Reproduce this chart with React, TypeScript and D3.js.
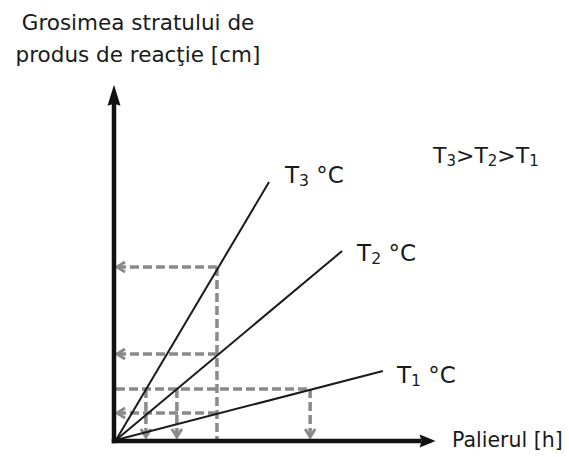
import React from "react";
import * as d3 from "d3";

// Reaction-layer growth at three temperatures (linear law h = k·t)
const seriesNames = ["1", "2", "3"]; // T1, T2, T3 subscripts
const lineEndTime = [7.85, 6.65, 4.5]; // h
const lineEndThickness = [1.97, 5.4, 7.37]; // cm

// Reading at a fixed dwell time: thickness obtained for each temperature
const readTime = 2.97;
const thicknessAtReadTime = [0.77, 2.46, 4.94];

// Reading at a fixed thickness: dwell time needed for each temperature
const readThickness = 1.46;
const timeAtReadThickness = [5.71, 1.79, 0.88];

const xAxisMax = 9.4;
const yAxisMax = 10.15;

const titleLines = ["Grosimea stratului de", "produs de reacţie [cm]"];
const xTitle = "Palierul [h]";

const W = 569;
const H = 457;

const x = d3.scaleLinear().domain([0, 10]).range([116, 456]);
const y = d3.scaleLinear().domain([0, 10]).range([440, 90]);

const FONT = "'DejaVu Sans', Verdana, sans-serif";
const INK = "#1a1a1a";
const DASH = "#8a8a8a";

// label offsets from each line's end point, in px
const labelOffset = [
  [14, 12],
  [15, 10],
  [16, 1],
];

function Sub({ base, sub, rest, size }: { base: string; sub: string; rest?: string; size: number }) {
  return (
    <>
      <tspan>{base}</tspan>
      <tspan fontSize={size * 0.68} dy={3}>{sub}</tspan>
      <tspan dy={-3}>{rest ?? ""}</tspan>
    </>
  );
}

export default function App() {
  const line = d3.line<[number, number]>().x((d) => x(d[0])).y((d) => y(d[1]));
  const x0 = x(0);
  const y0 = y(0);

  const leftArrow = (px: number, py: number) =>
    `M${px + 8},${py - 5} L${px},${py} L${px + 8},${py + 5}`;
  const downArrow = (px: number, py: number) =>
    `M${px - 5},${py - 8} L${px},${py} L${px + 5},${py - 8}`;

  const yAxisX = x0 - 2;
  const xAxisY = y0 + 1;
  const yTip = y(yAxisMax);
  const xTip = x(xAxisMax);

  return (
    <svg width={W} height={H} style={{ position: "absolute", left: 0, top: 0, background: "#fff" }}>
      {/* axis titles */}
      <text x={138} y={30} textAnchor="middle" fontFamily={FONT} fontSize={21.5} fill={INK}>
        {titleLines[0]}
      </text>
      <text x={138} y={62} textAnchor="middle" fontFamily={FONT} fontSize={21.5} fill={INK}>
        {titleLines[1]}
      </text>
      <text x={452} y={447} fontFamily={FONT} fontSize={20.5} fill={INK}>
        {xTitle}
      </text>

      {/* dashed read-off guides */}
      <g stroke={DASH} strokeWidth={3.5} fill="none" strokeDasharray="9,4">
        <line x1={x(readTime)} y1={y(Math.max(...thicknessAtReadTime))} x2={x(readTime)} y2={y0} />
        {thicknessAtReadTime.map((v, i) => (
          <line key={"h" + i} x1={x(readTime)} y1={y(v)} x2={x0 + 2} y2={y(v)} />
        ))}
        <line x1={x0} y1={y(readThickness)} x2={x(Math.max(...timeAtReadThickness))} y2={y(readThickness)} />
        {timeAtReadThickness.map((t, i) => (
          <line key={"v" + i} x1={x(t)} y1={y(readThickness)} x2={x(t)} y2={y0 - 4} />
        ))}
      </g>
      <g stroke={DASH} strokeWidth={3} fill="none" strokeLinejoin="miter">
        {thicknessAtReadTime.map((v, i) => (
          <path key={"la" + i} d={leftArrow(x0 + 1, y(v))} />
        ))}
        {timeAtReadThickness.map((t, i) => (
          <path key={"da" + i} d={downArrow(x(t), y0 - 3)} />
        ))}
      </g>

      {/* temperature lines */}
      <g stroke={INK} strokeWidth={2} fill="none">
        {lineEndTime.map((t, i) => (
          <path key={i} d={line([[0, 0], [t, lineEndThickness[i]]]) ?? ""} />
        ))}
      </g>
      {lineEndTime.map((t, i) => (
        <text
          key={"lab" + i}
          x={x(t) + labelOffset[i][0]}
          y={y(lineEndThickness[i]) + labelOffset[i][1]}
          fontFamily={FONT}
          fontSize={23}
          fill={INK}
        >
          <Sub base="T" sub={seriesNames[i]} rest=" °C" size={23} />
        </text>
      ))}

      <text x={433} y={163} fontFamily={FONT} fontSize={22} fill={INK}>
        <Sub base="T" sub="3" rest=">T" size={22} />
        <tspan fontSize={22 * 0.68} dy={3}>2</tspan>
        <tspan dy={-3}>{">T"}</tspan>
        <tspan fontSize={22 * 0.68} dy={3}>1</tspan>
      </text>

      {/* axes */}
      <g stroke="#111" strokeWidth={4.5} fill="none">
        <line x1={yAxisX} y1={xAxisY + 2.25} x2={yAxisX} y2={yTip + 18} />
        <line x1={yAxisX - 2.25} y1={xAxisY} x2={xTip - 14} y2={xAxisY} />
      </g>
      <path
        d={`M${yAxisX},${yTip} L${yAxisX + 6.5},${yTip + 21} L${yAxisX},${yTip + 19} L${yAxisX - 6.5},${yTip + 21} Z`}
        fill="#111"
      />
      <path
        d={`M${xTip},${xAxisY} L${xTip - 16},${xAxisY + 6.5} L${xTip - 14},${xAxisY} L${xTip - 16},${xAxisY - 6.5} Z`}
        fill="#111"
      />
    </svg>
  );
}
